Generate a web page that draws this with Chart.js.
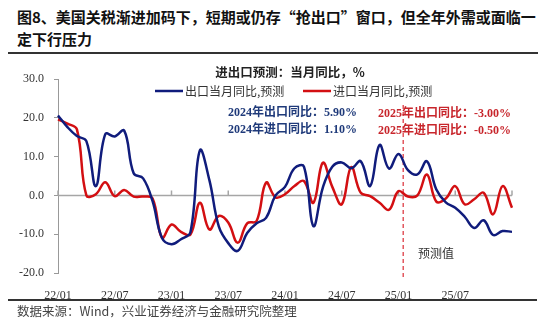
<!DOCTYPE html>
<html>
<head>
<meta charset="utf-8">
<script src="https://cdn.jsdelivr.net/npm/chart.js@4.4.0/dist/chart.umd.min.js"></script>
<style>
  body { margin: 0; background: #fff; }
  #wrap { position: relative; width: 550px; height: 334px; overflow: hidden; font-family: "Noto Sans CJK SC", sans-serif; }
  #title { position: absolute; left: 17px; top: 6px; font-size: 15px; font-weight: bold; line-height: 22px; color: #111; white-space: nowrap; }
  .rule { position: absolute; left: 8px; background: #333; }
  #src { position: absolute; left: 17px; top: 301px; font-size: 12.5px; color: #444; }
  canvas { position: absolute; left: 0; top: 0; }
</style>
</head>
<body>
<div id="wrap">
  <div id="title">图8、美国关税渐进加码下，短期或仍存“抢出口”窗口，但全年外需或面临一<br>定下行压力</div>
  <div class="rule" style="top:52px;width:530px;height:2px"></div>
  <canvas id="myChart" width="550" height="334"></canvas>
  <div class="rule" style="top:299px;width:529px;height:1.5px"></div>
  <div id="src">数据来源：Wind，兴业证券经济与金融研究院整理</div>
</div>
<script>
var months = ['22/01', '22/02', '22/03', '22/04', '22/05', '22/06', '22/07', '22/08', '22/09', '22/10', '22/11', '22/12',
              '23/01', '23/02', '23/03', '23/04', '23/05', '23/06', '23/07', '23/08', '23/09', '23/10', '23/11', '23/12',
              '24/01', '24/02', '24/03', '24/04', '24/05', '24/06', '24/07', '24/08', '24/09', '24/10', '24/11', '24/12',
              '25/01', '25/02', '25/03', '25/04', '25/05', '25/06', '25/07', '25/08', '25/09', '25/10', '25/11', '25/12',
              '26/01'];

// 出口当月同比（含预测），%
var exportYoY = [20.6, 17.6, 15.3, 14.0, 2.4, 15.8, 15.2, 16.7, 5.7, 4.4, -1.5, -11.0,
                 -12.6, -11.3, -9.5, 11.6, 4.0, -8.0, -12.3, -14.3, -9.7, -7.2, -5.8, 0.0,
                 2.2, 7.0, 7.4, -7.9, 2.0, 7.4, 8.5, 7.0, 8.8, 2.4, 13.0, 6.9,
                 10.7, 6.5, 5.4, 8.8, 1.5, -1.8, -3.2, -5.5, -8.4, -6.4, -10.2, -9.2,
                 -9.4];

// 进口当月同比（含预测），%
var importYoY = [19.6, 18.5, 17.0, 0.0, 0.3, 3.4, -0.2, 1.4, -0.3, -0.3, -0.8, -10.9,
                 -7.5, -9.4, -10.1, -1.9, -8.8, -5.3, -7.0, -12.2, -7.2, -6.6, 3.3, -0.5,
                 0.3, 2.4, 3.7, -1.9, 8.4, 2.2, -2.3, 7.3, 0.7, -0.2, -1.9, -3.7,
                 1.1, -0.3, 0.0, 5.4, -1.6, -0.8, 2.4, -2.3, -1.0, 0.7, -4.9, 2.4,
                 -3.2];

var seriesNames = ['出口当月同比,预测', '进口当月同比,预测'];
var seriesColors = ['#101c7c', '#d30f12'];
var notes2024 = ['2024年出口同比：5.90%', '2024年进口同比：1.10%'];
var notes2025 = ['2025年出口同比：-3.00%', '2025年进口同比：-0.50%'];
var forecastFrom = '25/01';

var decor = {
    id: 'decor',
    beforeDatasetsDraw: function(chart) {
        var ctx = chart.ctx, area = chart.chartArea;
        var x = chart.scales.x, y = chart.scales.y;
        var y0 = y.getPixelForValue(0);
        ctx.save();
        // zero line with half-year ticks
        ctx.strokeStyle = '#a6a6a6';
        ctx.lineWidth = 1.5;
        ctx.beginPath();
        ctx.moveTo(area.left, y0);
        ctx.lineTo(area.right, y0);
        for (var i = 0; i < months.length; i += 6) {
            var px = x.getPixelForValue(i);
            ctx.moveTo(px, y0);
            ctx.lineTo(px, y0 - 5);
        }
        ctx.stroke();

        // forecast divider
        var k = months.indexOf(forecastFrom);
        var dx = (x.getPixelForValue(k) + x.getPixelForValue(k + 1)) / 2;
        ctx.strokeStyle = '#e2575e';
        ctx.lineWidth = 1.5;
        ctx.setLineDash([4, 3]);
        ctx.beginPath();
        ctx.moveTo(dx, 105);
        ctx.lineTo(dx, area.bottom + 4);
        ctx.stroke();
        ctx.restore();
    },
    afterDatasetsDraw: function(chart) {
        var ctx = chart.ctx;
        ctx.save();
        ctx.textBaseline = 'middle';

        ctx.fillStyle = '#222';
        ctx.textAlign = 'center';
        ctx.font = 'bold 12.5px "Noto Sans CJK SC"';
        ctx.fillText('进出口预测：当月同比，%', 290, 72);

        // legend
        ctx.textAlign = 'left';
        ctx.font = '12px "Noto Sans CJK SC"';
        var lx = [155, 303];
        for (var i = 0; i < 2; i++) {
            ctx.strokeStyle = seriesColors[i];
            ctx.lineWidth = 2.5;
            ctx.beginPath();
            ctx.moveTo(lx[i], 91);
            ctx.lineTo(lx[i] + 28, 91);
            ctx.stroke();
            ctx.fillStyle = '#333';
            ctx.fillText(seriesNames[i], lx[i] + 30, 91);
        }

        ctx.font = 'bold 12px "Liberation Serif", "Noto Sans CJK SC"';
        ctx.fillStyle = '#1f3a7a';
        ctx.fillText(notes2024[0], 228, 113);
        ctx.fillText(notes2024[1], 228, 130);
        ctx.fillStyle = '#c8262c';
        ctx.fillText(notes2025[0], 378, 114);
        ctx.fillText(notes2025[1], 378, 131);

        ctx.font = '12px "Liberation Serif", "Noto Sans CJK SC"';
        ctx.fillStyle = '#333';
        ctx.fillText('预测值', 418, 255);
        ctx.restore();
    }
};

var ctx = document.getElementById('myChart').getContext('2d');

var chart = new Chart(ctx, {
    type: 'line',
    data: {
        labels: months,
        datasets: [{
            label: seriesNames[0],
            data: exportYoY,
            borderColor: seriesColors[0],
            borderWidth: 2.5,
            pointRadius: 0,
            tension: 0.4
        }, {
            label: seriesNames[1],
            data: importYoY,
            borderColor: seriesColors[1],
            borderWidth: 2.5,
            pointRadius: 0,
            tension: 0.4
        }]
    },
    options: {
        responsive: false,
        animation: false,
        layout: { padding: { top: 79, right: 38, left: 0, bottom: 0 } },
        plugins: {
            legend: { display: false },
            tooltip: { enabled: false }
        },
        scales: {
            x: {
                offset: false,
                grid: { display: false },
                border: { display: false },
                ticks: {
                    autoSkip: false,
                    maxRotation: 0,
                    padding: 8,
                    color: '#333',
                    font: { family: 'Liberation Serif', size: 12 },
                    callback: function(v, i) {
                        return (i % 6 === 0 && i < months.length - 1) ? months[i] : '';
                    }
                },
                afterFit: function(s) { s.height = 61; }
            },
            y: {
                min: -20,
                max: 30,
                ticks: {
                    stepSize: 10,
                    padding: 10,
                    color: '#333',
                    font: { family: 'Liberation Serif', size: 12 },
                    callback: function(v) { return v.toFixed(1); }
                },
                grid: { drawOnChartArea: false, tickLength: 4, color: '#999' },
                border: { color: '#999' },
                afterFit: function(s) { s.width = 58; }
            }
        }
    },
    plugins: [decor]
});
</script>
</body>
</html>
